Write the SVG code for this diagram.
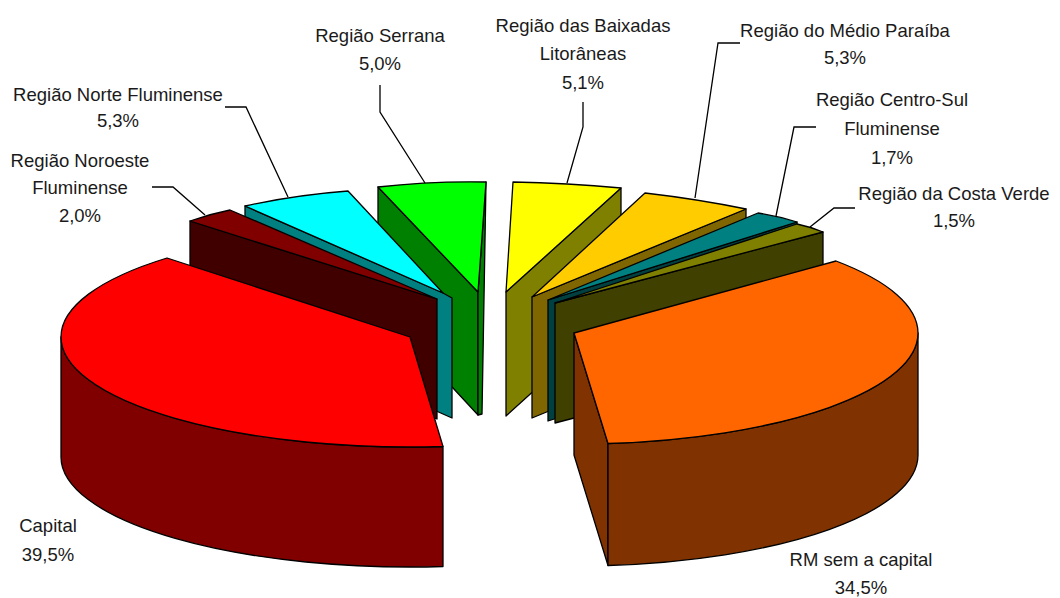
<svg xmlns="http://www.w3.org/2000/svg" width="1060" height="598" viewBox="0 0 1060 598">
<style>
.e{stroke:#000;stroke-width:1.3;stroke-linejoin:round}
.t{font-family:"Liberation Sans",Arial,sans-serif;font-size:18.5px;fill:#1a1a1a;text-anchor:middle}
.l{fill:none;stroke:#000;stroke-width:1.3}
</style>
<rect width="1060" height="598" fill="#fff"/>
<g id="serrana">
<path class="e" fill="#008000" d="M378,187 L478,292 L478,415 L378,307 Z"/>
<path class="e" fill="#008000" d="M486,182 L478,292 L478,415 L482,414 Z"/>
<path class="e" fill="#00FF00" d="M378,187 Q430,181 486,182 L478,292 Z"/>
<text class="t" x="380" y="42">Região Serrana</text>
<text class="t" x="380" y="70">5,0%</text>
</g>
<g id="norte-fluminense">
<path class="e" fill="#008080" d="M245,206 L443,293 L452,298 L452,418 L245,326 Z"/>
<path class="e" fill="#00FFFF" d="M245,206 Q295,195 348,191 L443,293 Z"/>
<text class="t" x="118" y="101">Região Norte Fluminense</text>
<text class="t" x="118" y="127">5,3%</text>
</g>
<g id="noroeste-fluminense">
<path class="e" fill="#400000" d="M190,221 L437,299 L437,419 L190,341 Z"/>
<path class="e" fill="#800000" d="M190,221 Q210,214 230,210 L437,299 Z"/>
<text class="t" x="80" y="167">Região Noroeste</text>
<text class="t" x="80" y="194">Fluminense</text>
<text class="t" x="80" y="222">2,0%</text>
</g>
<g id="capital">
<path class="e" fill="#800000" d="M61,337 L61,457 A349 110 0 0 0 443,566.5 L443,446.5 A349 110 0 0 1 61,337 Z"/>
<path class="e" fill="#FF0000" d="M410,337 L443,446.5 A349 110 0 0 1 61,337 A349 110 0 0 1 167,258 Z"/>
<text class="t" x="48" y="532">Capital</text>
<text class="t" x="48" y="561">39,5%</text>
</g>
<g id="baixadas-litoraneas">
<path class="e" fill="#808000" d="M621,188 L506,292 L506,416 L621,312 Z"/>
<path class="e" fill="#FFFF00" d="M513,182 Q567,183 621,188 L506,292 Z"/>
<text class="t" x="583" y="32">Região das Baixadas</text>
<text class="t" x="583" y="60">Litorâneas</text>
<text class="t" x="583" y="89">5,1%</text>
</g>
<g id="medio-paraiba">
<path class="e" fill="#806600" d="M746,209 L532,297 L532,418 L746,330 Z"/>
<path class="e" fill="#FFCC00" d="M532,297 L645,193 Q697,199 746,209 Z"/>
<text class="t" x="845" y="37">Região do Médio Paraíba</text>
<text class="t" x="845" y="64">5,3%</text>
</g>
<g id="centro-sul-fluminense">
<path class="e" fill="#004040" d="M797,222 L548,300 L548,421 L797,342 Z"/>
<path class="e" fill="#008080" d="M548,300 L758,213 Q778,216 797,222 Z"/>
<text class="t" x="892" y="106">Região Centro-Sul</text>
<text class="t" x="892" y="135">Fluminense</text>
<text class="t" x="892" y="164">1,7%</text>
</g>
<g id="costa-verde">
<path class="e" fill="#404000" d="M823,232 L555,303 L555,423 L823,353 Z"/>
<path class="e" fill="#808000" d="M555,303 L797,224 Q811,227 823,232 Z"/>
<text class="t" x="954" y="200">Região da Costa Verde</text>
<text class="t" x="954" y="227">1,5%</text>
</g>
<g id="rm-sem-capital">
<path class="e" fill="#803300" d="M574,333 L608,443.5 L608,565.5 L574,455 Z"/>
<path class="e" fill="#803300" d="M918,333 L918,455 A344 111 0 0 1 608,565.5 L608,443.5 A344 111 0 0 0 918,333 Z"/>
<path class="e" fill="#FF6600" d="M574,333 L836,261 A344 111 0 0 1 918,333 A344 111 0 0 1 608,443.5 Z"/>
<text class="t" x="861" y="566">RM sem a capital</text>
<text class="t" x="861" y="594">34,5%</text>
</g>
<g id="connectors">
<polyline class="l" points="380,85 380,112 425,183"/>
<polyline class="l" points="225,107 246,107 288,197"/>
<polyline class="l" points="152,187 173,187 205,215"/>
<polyline class="l" points="583,102 583,127 567,183"/>
<polyline class="l" points="740,43 718,43 695,198"/>
<polyline class="l" points="816,127 794,127 776,216"/>
<polyline class="l" points="855,208 834,208 810,227"/>
</g>
</svg>
